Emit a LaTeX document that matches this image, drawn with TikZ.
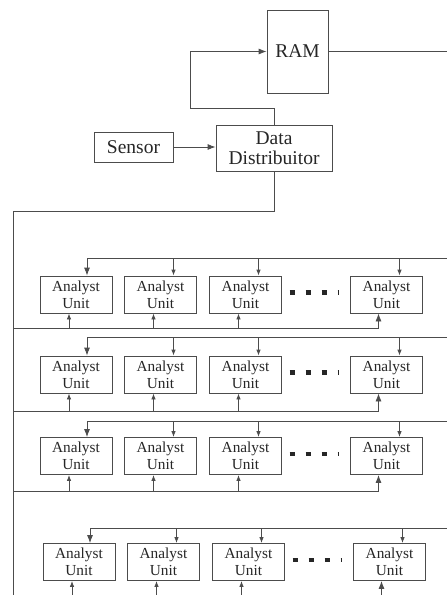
\documentclass[tikz,border=0pt]{standalone}
\usepackage{fontspec}
\setmainfont{Liberation Serif}
\usetikzlibrary{arrows.meta,calc}

\tikzset{
  blk/.style={draw=black!70,line width=0.8pt,inner sep=0pt,align=center,text=black!85},
  wire/.style={draw=black!70,line width=0.8pt},
  bigtip/.style={-{Latex[length=8pt,width=6pt]}},
}
\newcommand{\bigtxt}{\fontsize{19.5}{20.5}\selectfont}
\newcommand{\smalltxt}{\fontsize{15.3}{17}\selectfont}

\begin{document}
\begin{tikzpicture}[>={Latex[length=6pt,width=4.5pt]},x=1pt,y=-1pt]

\useasboundingbox (0,0) rectangle (447,595);

\node[blk,minimum width=61pt,minimum height=83pt,font=\bigtxt] (ram) at (297.5,51.5) {RAM};
\node[blk,minimum width=116pt,minimum height=46pt,font=\bigtxt] (dist) at (274,148) {Data\\Distribuitor};
\node[blk,minimum width=79pt,minimum height=30pt,font=\bigtxt] (sensor) at (133.5,147) {Sensor};

\coordinate (ramout) at (447,51.5);
\coordinate (split) at (13,211);
\coordinate (trunk) at (13,598);

\draw[wire,bigtip] (sensor.east) -- (sensor.east -| dist.west);
\draw[wire,bigtip] (dist.north) -- ++(0,-16) -| ([xshift=-76pt]ram.west) -- (ram.west);
\draw[wire] (ram.east) -- (ramout);
\draw[wire] (dist.south) |- (split) -- (trunk);

\foreach \r/\y/\top/\bot/\dx in {1/294.5/258/328/0, 2/374.5/337/411/0, 3/456/421/491/0, 4/562/528/598/3}{
  \foreach \c/\x in {1/76,2/160.5,3/245.5,4/386.5}
    \node[blk,minimum width=72pt,minimum height=37pt,font=\smalltxt] (au\r\c) at (\x+\dx,\y) {Analyst\\Unit};
  \coordinate (in\r) at (447,\top);
  \coordinate (out\r) at (13,\bot);
  \draw[wire,bigtip] (in\r) -| ([xshift=11pt]au\r1.north);
  \foreach \c in {2,3,4}
    \draw[wire,->] ([xshift=13pt]au\r\c.north |- in\r) -- ([xshift=13pt]au\r\c.north);
  \draw[wire,bigtip] (out\r) -| ([xshift=-8pt]au\r4.south);
  \foreach \c in {1,2,3}
    \draw[wire,->] ([xshift=-7pt]au\r\c.south |- out\r) -- ([xshift=-7pt]au\r\c.south);
  % dots
  \draw[line width=4.5pt,dash pattern=on 5pt off 11pt,black!85] (289.5+\dx,\y-2) -- (339+\dx,\y-2);
}

\end{tikzpicture}
\end{document}
